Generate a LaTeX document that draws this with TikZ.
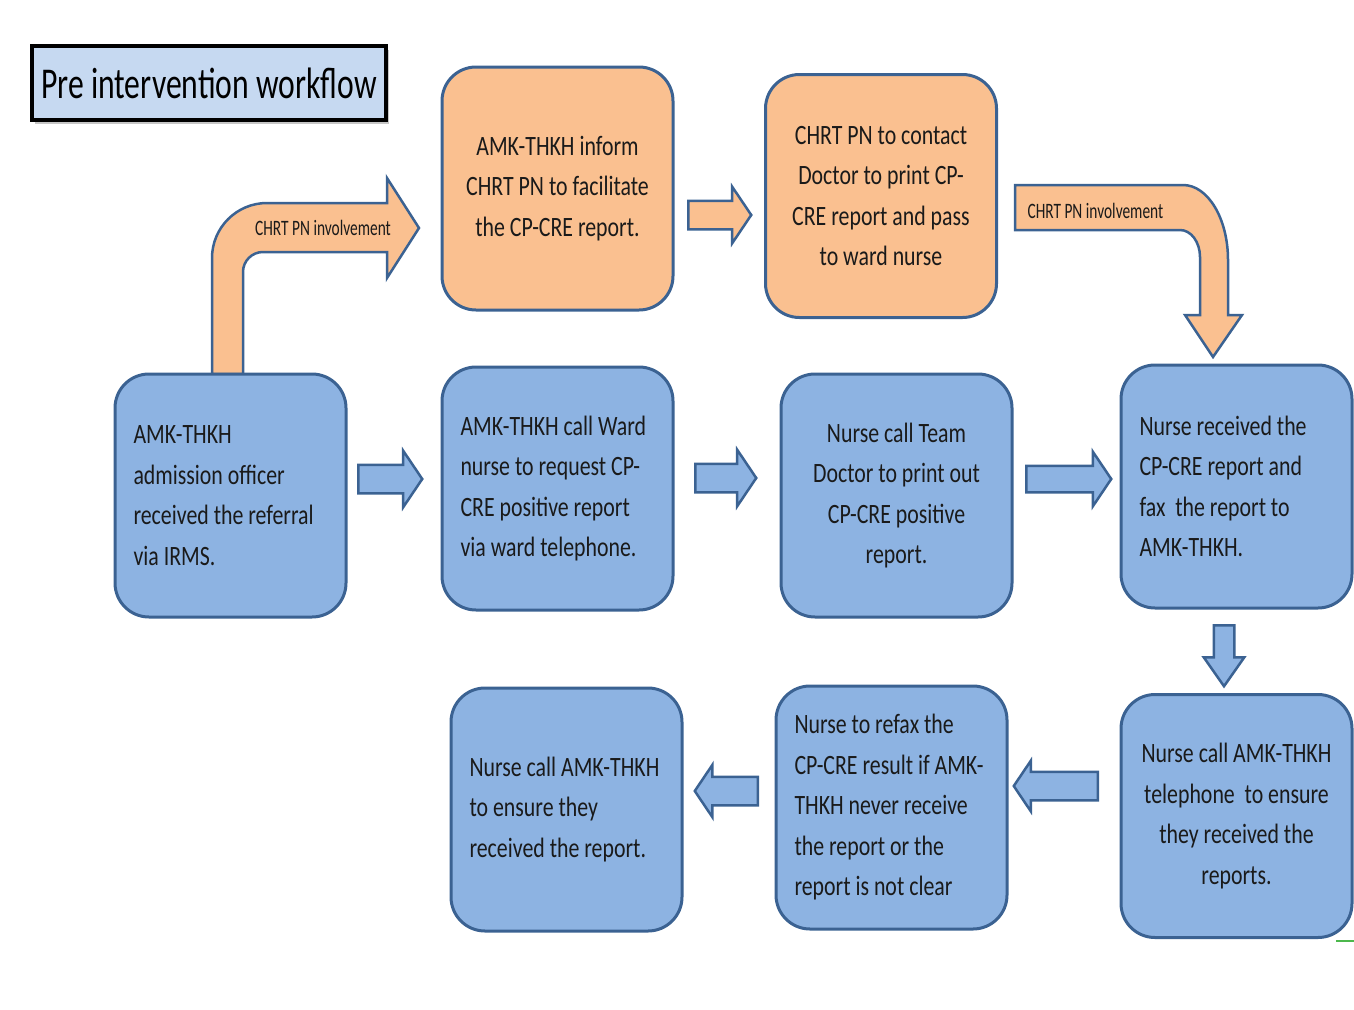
\documentclass[tikz,border=0pt]{standalone}
\usepackage{fontspec}
\setmainfont{Carlito}[FakeStretch=0.78]
\newfontfamily\titlefont{Carlito}[FakeStretch=0.72]
\newfontfamily\labelfont{Carlito}[FakeStretch=0.70]
\usepackage{xcolor}
\usepackage{tikz}
\usetikzlibrary{arrows.meta, positioning, shapes, shadows, calc}
\definecolor{boxblue}{HTML}{8DB3E2}
\definecolor{boxorange}{HTML}{FAC090}
\definecolor{boxline}{HTML}{3B6292}
\definecolor{titleblue}{HTML}{C6D9F1}
\definecolor{txtgray}{HTML}{1A1A1A}

\begin{document}
\begin{tikzpicture}[x=1pt, y=1pt,
    flowbox/.style={draw=boxline, line width=3, rounded corners=34,
      minimum width=231, minimum height=243, inner sep=0pt,
      text=txtgray, font=\fontsize{28}{40.5}\selectfont},
    bluebox/.style={flowbox, fill=boxblue},
    orangebox/.style={flowbox, fill=boxorange},
    leftbox/.style={text width=194, align=flush left},
    midbox/.style={text width=222, align=flush center},
    blockarrow/.style={single arrow, draw=boxline, line width=2.5,
      fill=boxblue, inner sep=13, single arrow head extend=14,
      single arrow tip angle=112, anchor=tail},
    bentarrow/.style={draw=boxline, line width=2.5, fill=boxorange},
    bentlabel/.style={text=txtgray, font=\labelfont\fontsize{22}{24}\selectfont}]
  \useasboundingbox (0,0) rectangle (1354,-1009);

  % Title
  \node[draw=black, line width=4.5, fill=titleblue, minimum width=354,
    minimum height=74, inner sep=0pt,
    drop shadow={shadow xshift=3, shadow yshift=-4, opacity=.45},
    font=\titlefont\fontsize{44}{46}\selectfont] (title) at (209,-83)
    {Pre intervention workflow};

  % Bent arrows (CHRT PN involvement)
  \draw[bentarrow] (212,-374) -- (212,-258) arc (180:90:55) -- (387,-203)
    -- (387,-178) -- (419,-228) -- (387,-278) -- (387,-252) -- (263,-252)
    arc (90:180:20) -- (243,-374) -- cycle;
  \node[bentlabel] (lbl1) at (323,-228) {CHRT PN involvement};
  \draw[bentarrow] (1015,-185) -- (1183,-185)
    arc [start angle=90, end angle=0, x radius=45, y radius=75]
    -- (1228,-315) -- (1242,-315) -- (1213,-357) -- (1185,-315)
    -- (1200,-315) -- (1200,-257)
    arc [start angle=0, end angle=90, x radius=20, y radius=27]
    -- (1015,-230) -- cycle;
  \node[bentlabel, anchor=west] (lbl2) at (1024,-211) {CHRT PN involvement};

  % Row 1
  \node[orangebox, midbox] (inform) at (557.5,-188.5)
    {AMK-THKH inform\\CHRT PN to facilitate\\the CP-CRE report.};
  \node[orangebox, midbox] (contact) at (881,-196)
    {CHRT PN to contact\\Doctor to print CP-\\CRE report and pass\\to ward nurse};

  % Row 2
  \node[bluebox, leftbox] (referral) at (230.5,-495.5)
    {AMK-THKH\\admission officer\\received the referral\\via IRMS.};
  \node[bluebox, leftbox] (callward) at (557.5,-488.5)
    {AMK-THKH call Ward\\nurse to request CP-\\CRE positive report\\via ward telephone.};
  \node[bluebox, midbox] (callteam) at (896.5,-495.5)
    {Nurse call Team\\Doctor to print out\\CP-CRE positive\\report.};
  \node[bluebox, leftbox] (received) at (1236.5,-486.5)
    {Nurse received the\\CP-CRE report and\\fax\ \ the report to\\AMK-THKH.};

  % Row 3
  \node[bluebox, midbox] (ensure) at (1236.5,-816)
    {Nurse call AMK-THKH\\telephone\ \ to ensure\\they received the\\reports.};
  \node[bluebox, leftbox] (refax) at (891.5,-807.5)
    {Nurse to refax the\\CP-CRE result if AMK-\\THKH never receive\\the report or the\\report is not clear};
  \node[bluebox, leftbox] (callamk) at (566.5,-809.5)
    {Nurse call AMK-THKH\\to ensure they\\received the report.};

  % Block arrows
  \node[blockarrow, fill=boxorange, minimum height=63] (a0) at (687,-215) {};
  \node[blockarrow, minimum height=64] (a1) at (357,-479) {};
  \node[blockarrow, minimum height=61] (a2) at (694,-478) {};
  \node[blockarrow, minimum height=85, inner sep=12] (a3) at (1025,-479) {};
  \node[blockarrow, minimum height=61, inner sep=9, single arrow head extend=10,
    single arrow tip angle=70, shape border rotate=270] (a4) at (1224,-624) {};
  \node[blockarrow, minimum height=84, single arrow head extend=11,
    shape border rotate=180] (a5) at (1099,-786) {};
  \node[blockarrow, minimum height=63, single arrow head extend=12,
    shape border rotate=180] (a6) at (759,-791) {};

  % Corner mark
  \draw[green!60!black!70, line width=2.5] (1336,-941) -- (1354,-941);
\end{tikzpicture}
\end{document}
